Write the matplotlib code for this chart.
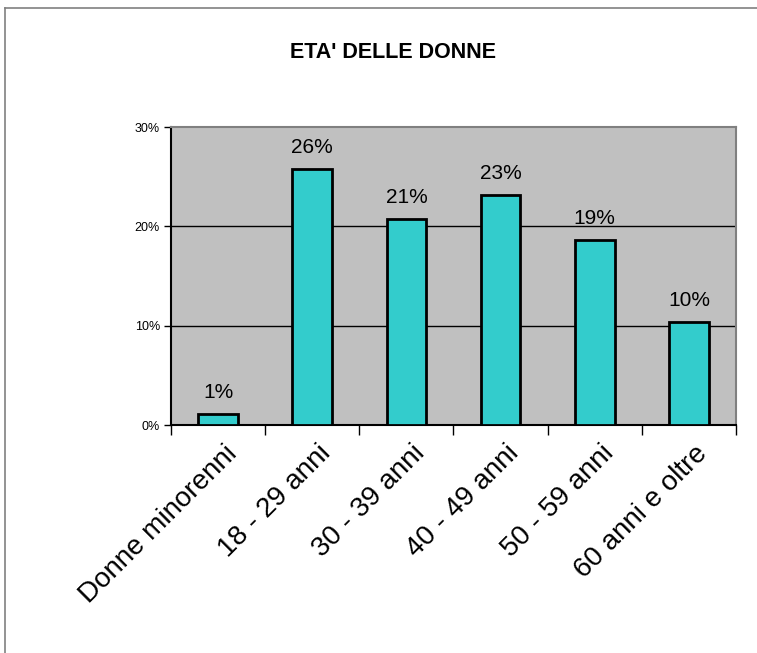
import matplotlib.pyplot as plt
import numpy as np

plt.rcParams["font.family"] = ["Liberation Sans", "DejaVu Sans"]

# Data
categories = ["Donne minorenni", "18 - 29 anni", "30 - 39 anni",
              "40 - 49 anni", "50 - 59 anni", "60 anni e oltre"]
values = [1.1, 25.8, 20.7, 23.2, 18.6, 10.4]
labels = ["1%", "26%", "21%", "23%", "19%", "10%"]
yticks = [0, 10, 20, 30]
ytick_labels = ["0%", "10%", "20%", "30%"]

fig = plt.figure(figsize=(7.57, 6.53), dpi=100)
fig.patch.set_facecolor("white")

# Outer chart frame (only left/top visible in the reference)
fig.add_artist(plt.Line2D([5 / 757, 5 / 757], [0, 1 - 8 / 653],
                          transform=fig.transFigure, color="#808080", lw=1.2))
fig.add_artist(plt.Line2D([5 / 757, 1], [1 - 8 / 653, 1 - 8 / 653],
                          transform=fig.transFigure, color="#808080", lw=1.2))

ax = fig.add_axes([171 / 757, 1 - 425 / 653, (736 - 171) / 757, (425 - 127) / 653])
ax.set_facecolor("#C0C0C0")

x = np.arange(len(categories))
ax.bar(x, values, width=0.42, color="#33CCCC", edgecolor="black", linewidth=2, zorder=3)

for xi, v, lab in zip(x, values, labels):
    ax.text(xi, v + 1.2, lab, ha="center", va="bottom", fontsize=15, zorder=4)

ax.set_xlim(-0.5, len(categories) - 0.5)
ax.set_ylim(0, 30)
ax.set_yticks(yticks)
ax.set_yticklabels(ytick_labels, fontsize=9)
for t in [10, 20]:
    ax.axhline(t, color="black", lw=1, zorder=1)

# Category boundary ticks
ax.set_xticks(np.arange(-0.5, len(categories), 1.0))
ax.set_xticklabels([])
ax.tick_params(axis="x", length=7, width=1, direction="out")
ax.tick_params(axis="y", length=5, width=1, direction="out", pad=3)

for xi, cat in zip(x, categories):
    ax.annotate(cat, xy=(xi, 0), xycoords=("data", "axes fraction"),
                xytext=(4, -11), textcoords="offset points",
                rotation=45, rotation_mode="anchor", ha="right", va="top",
                fontsize=20)

ax.spines["left"].set_color("black")
ax.spines["bottom"].set_color("black")
ax.spines["top"].set_color("#808080")
ax.spines["right"].set_color("#808080")
for s in ax.spines.values():
    s.set_linewidth(1.5)

fig.text(393 / 757, 1 - 52 / 653, "ETA' DELLE DONNE", ha="center", va="center",
         fontsize=15.5, fontweight="bold")

fig.savefig("out.png", dpi=100)
